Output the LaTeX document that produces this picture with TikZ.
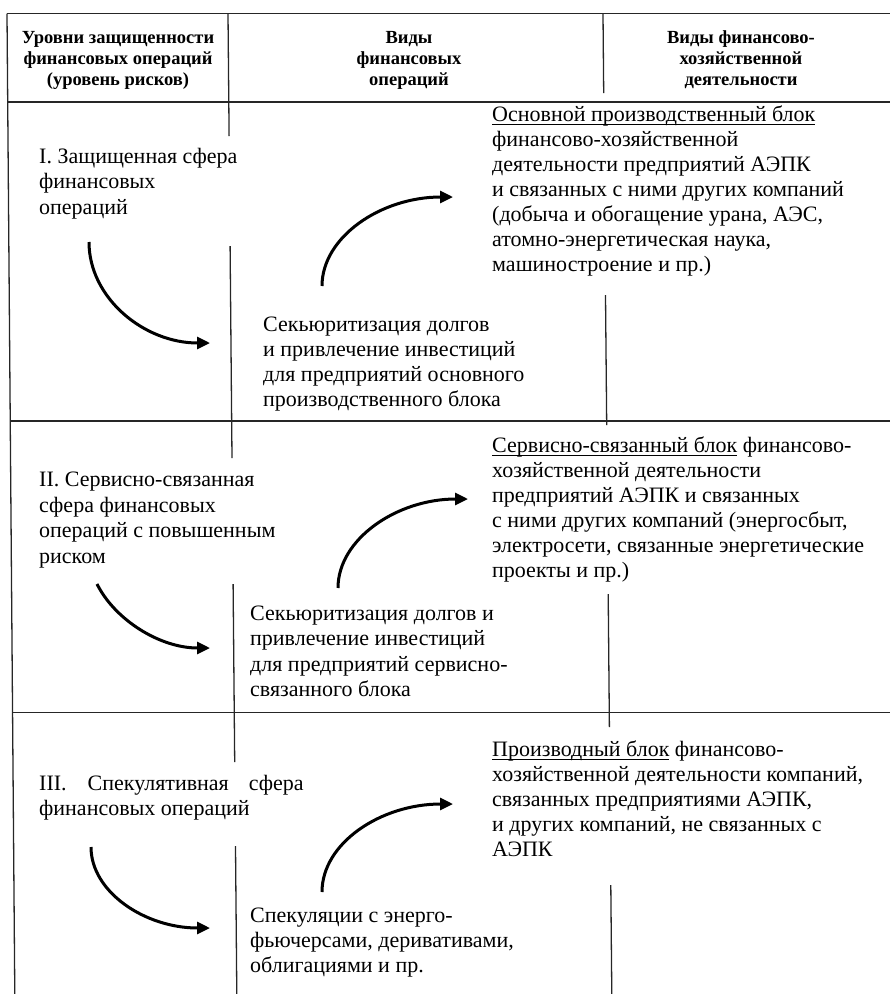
\documentclass[tikz,border=0pt]{standalone}
\usepackage{fontspec}
\setmainfont{Liberation Serif}
\usetikzlibrary{arrows.meta}
\newcommand\myul[1]{\leavevmode\setbox0\hbox{#1}\rlap{\rule[-3.3pt]{\wd0}{1pt}}\box0\relax}
\newcommand\linesbox[2]{\parbox[t]{#1}{\raggedright #2}}
\newcommand\headbox[1]{\parbox[t]{220pt}{\centering #1}}
\tikzset{
  grid/.style={line width=1.3pt, black!85},
  flow/.style={line width=3pt, -{Triangle[length=13pt,width=12pt]}},
  body/.style={anchor=base west, inner sep=0pt, font=\fontsize{22}{25}\selectfont},
  bodyl/.style={anchor=base west, inner sep=0pt, font=\fontsize{22}{25.5}\selectfont},
  head/.style={anchor=base, inner sep=0pt, font=\bfseries\fontsize{18.5}{21}\selectfont},
}
\begin{document}
\begin{tikzpicture}[x=1pt,y=-1pt]
\useasboundingbox (0,0) rectangle (890,994);
% frame
\draw[grid] (7,13.5) -- (890,13.5);
\draw[grid] (7,102) -- (890,102);
\draw[grid] (10,421) -- (890,421);
\draw[grid] (12,712.5) -- (890,712.5);
\draw[grid] (7,13.5) -- (14.8,994);
% left divider
\draw[grid] (228,13.5) -- (229.1,136);
\draw[grid] (230.1,246) -- (232,458);
\draw[grid] (233.1,584) -- (234.7,762);
\draw[grid] (235.5,846) -- (236.8,994);
% right divider
\draw[grid] (603,13.5) -- (603.7,93);
\draw[grid] (605.5,295) -- (606.7,425);
\draw[grid] (608.2,594) -- (609.4,727);
\draw[grid] (610.8,885) -- (611.8,994);
% header
\node[head] (h1) at (118,43) {\headbox{Уровни защищенности\\финансовых операций\\(уровень рисков)}};
\node[head] (h2) at (409,43) {\headbox{Виды\\финансовых\\операций}};
\node[head] (h3) at (741,43) {\headbox{Виды финансово-\\хозяйственной\\деятельности}};
% section I
\node[bodyl] (l1) at (39,163) {\linesbox{280pt}{I. Защищенная сфера\\финансовых\\операций}};
\node[body] (m1) at (263,331.5) {\linesbox{330pt}{Секьюритизация долгов\\и привлечение инвестиций\\для предприятий основного\\производственного блока}};
\node[body] (r1) at (492,121.7) {\linesbox{395pt}{\myul{Основной производственный блок}\\финансово-хозяйственной\\деятельности предприятий АЭПК\\и связанных с ними других компаний\\(добыча и обогащение урана, АЭС,\\атомно-энергетическая наука,\\машиностроение и пр.)}};
% section II
\node[bodyl] (l2) at (39,486.7) {\linesbox{280pt}{II. Сервисно-связанная\\сфера финансовых\\операций с повышенным\\риском}};
\node[bodyl] (m2) at (250,620) {\linesbox{340pt}{Секьюритизация долгов и\\привлечение инвестиций\\для предприятий сервисно-\\связанного блока}};
\node[body] (r2) at (492,452.7) {\linesbox{395pt}{\myul{Сервисно-связанный блок} финансово-\\хозяйственной деятельности\\предприятий АЭПК и связанных\\с ними других компаний (энергосбыт,\\электросети, связанные энергетические\\проекты и пр.)}};
% section III
\node[body] (l3) at (39,790) {\linesbox{280pt}{III.\hspace{21pt}Спекулятивная\hspace{20pt}сфера\\финансовых операций}};
\node[body] (m3) at (250,922.7) {\linesbox{340pt}{Спекуляции с энерго-\\фьючерсами, деривативами,\\облигациями и пр.}};
\node[body] (r3) at (492,756.7) {\linesbox{395pt}{\myul{Производный блок} финансово-\\хозяйственной деятельности компаний,\\связанных предприятиями АЭПК,\\и других компаний, не связанных с\\АЭПК}};
% arrows
\coordinate (a1s) at (89,242);   \coordinate (a1e) at (210,343);
\coordinate (b1s) at (322,286);  \coordinate (b1e) at (453,197);
\coordinate (a2s) at (97,584);   \coordinate (a2e) at (210,648);
\coordinate (b2s) at (338,588);  \coordinate (b2e) at (468,499);
\coordinate (a3s) at (91,847);   \coordinate (a3e) at (210,928);
\coordinate (b3s) at (322,892);  \coordinate (b3e) at (453,804);
\draw[flow] (a1s) .. controls (89,298) and (144,343) .. (a1e);
\draw[flow] (b1s) .. controls (322,237) and (381,197) .. (b1e);
\draw[flow] (a2s) .. controls (115,620) and (160,648) .. (a2e);
\draw[flow] (b2s) .. controls (338,539) and (397,499) .. (b2e);
\draw[flow] (a3s) .. controls (91,892) and (145,928) .. (a3e);
\draw[flow] (b3s) .. controls (322,843) and (381,804) .. (b3e);
\end{tikzpicture}
\end{document}
